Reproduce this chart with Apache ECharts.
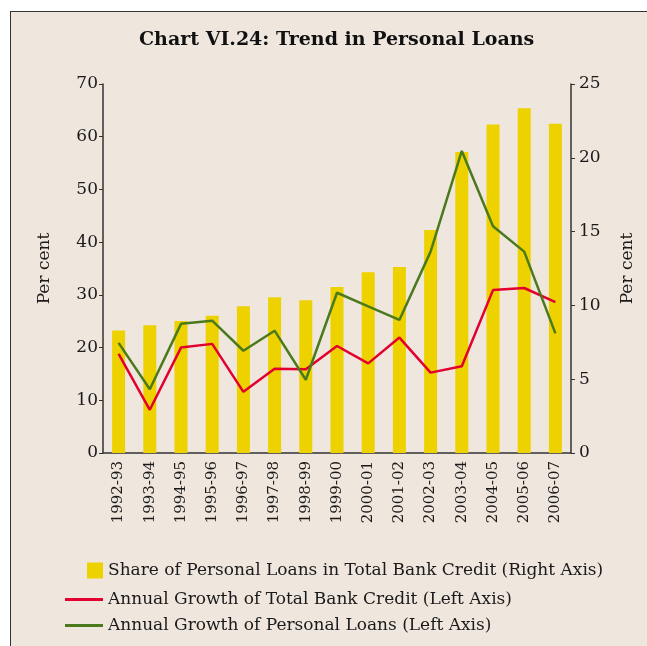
<!DOCTYPE html>
<html>
<head>
<meta charset="utf-8">
<script src="https://cdn.jsdelivr.net/npm/echarts@6/dist/echarts.min.js"></script>
<style>
  html, body { margin: 0; padding: 0; background: #ffffff; }
  #bg { position: absolute; left: 10px; top: 11px; width: 637px; height: 635px;
        background: #efe6dd; border-left: 1.5px solid #333; border-top: 1.5px solid #333; box-sizing: border-box; }
  #main { position: absolute; left: 0; top: 0; width: 647px; height: 646px; }
</style>
</head>
<body>
<div id="bg"></div>
<div id="main"></div>
<script>
var years = ['1992-93', '1993-94', '1994-95', '1995-96', '1996-97', '1997-98', '1998-99', '1999-00',
             '2000-01', '2001-02', '2002-03', '2003-04', '2004-05', '2005-06', '2006-07'];

// right axis, per cent
var shareLoans = [8.3, 8.65, 8.95, 9.3, 9.95, 10.55, 10.35, 11.25, 12.25, 12.6, 15.1, 20.4, 22.25, 23.35, 22.3];
// left axis, per cent
var growthCredit = [18.8, 8.2, 20.0, 20.7, 11.6, 16.0, 15.9, 20.3, 17.0, 21.9, 15.25, 16.45, 30.9, 31.3, 28.6];
var growthLoans = [20.9, 12.1, 24.5, 25.1, 19.4, 23.2, 13.9, 30.4, 27.8, 25.25, 38.2, 57.3, 43.0, 38.2, 22.7];

var names = [
    'Share of Personal Loans in Total Bank Credit (Right Axis)',
    'Annual Growth of Total Bank Credit (Left Axis)',
    'Annual Growth of Personal Loans (Left Axis)'
];

var font = 'DejaVu Serif';
var ink = '#1a1a1a';

var chartDom = document.getElementById('main');
var myChart = echarts.init(chartDom, null, { renderer: 'canvas' });
var option;

var legendText = { fontFamily: font, fontSize: 17, color: ink };

option = {
    backgroundColor: 'transparent',
    animation: false,
    title: {
        text: 'Chart VI.24: Trend in Personal Loans',
        left: 134,
        top: 26,
        textStyle: { fontFamily: font, fontSize: 19, fontWeight: 'bold', color: '#111' }
    },
    legend: [
        {
            data: [names[0]], left: 82, top: 557, itemWidth: 16, itemHeight: 16,
            icon: 'rect', textStyle: legendText
        },
        {
            data: [names[1]], left: 60, top: 586, itemWidth: 38, itemHeight: 3,
            icon: 'rect', textStyle: legendText
        },
        {
            data: [names[2]], left: 60, top: 612, itemWidth: 38, itemHeight: 3,
            icon: 'rect', textStyle: legendText
        }
    ],
    grid: { left: 103, right: 76, top: 84, bottom: 193 },
    xAxis: {
        type: 'category',
        data: years,
        boundaryGap: true,
        axisLine: { lineStyle: { color: '#333', width: 1.5 } },
        axisTick: { interval: 0, length: 5, lineStyle: { color: '#333' } },
        axisLabel: { interval: 0, rotate: 90, margin: 8, fontFamily: font, fontSize: 15, color: ink },
        splitLine: { show: false }
    },
    yAxis: [
        {
            type: 'value', min: 0, max: 70, interval: 10,
            name: 'Per cent', nameLocation: 'middle', nameRotate: 90, nameGap: 50,
            nameTextStyle: { fontFamily: font, fontSize: 17, color: ink },
            axisLine: { show: true, lineStyle: { color: '#333', width: 1.5 } },
            axisTick: { show: true, length: 4, lineStyle: { color: '#333' } },
            axisLabel: { margin: 5, fontFamily: font, fontSize: 17, color: ink },
            splitLine: { show: false }
        },
        {
            type: 'value', min: 0, max: 25, interval: 5, position: 'right',
            name: 'Per cent', nameLocation: 'middle', nameRotate: 90, nameGap: 48,
            nameTextStyle: { fontFamily: font, fontSize: 17, color: ink },
            axisLine: { show: true, lineStyle: { color: '#333', width: 1.5 } },
            axisTick: { show: true, length: 4, lineStyle: { color: '#333' } },
            axisLabel: { margin: 8, fontFamily: font, fontSize: 17, color: ink },
            splitLine: { show: false }
        }
    ],
    series: [
        {
            name: names[0], type: 'bar', yAxisIndex: 1, barWidth: 13,
            itemStyle: { color: '#edd200' },
            data: shareLoans
        },
        {
            name: names[1], type: 'line', yAxisIndex: 0, symbol: 'none',
            lineStyle: { color: '#e2002e', width: 2.5 }, itemStyle: { color: '#e2002e' },
            data: growthCredit
        },
        {
            name: names[2], type: 'line', yAxisIndex: 0, symbol: 'none',
            lineStyle: { color: '#4a7a1c', width: 2.5 }, itemStyle: { color: '#4a7a1c' },
            data: growthLoans
        }
    ]
};

option && myChart.setOption(option);
</script>
</body>
</html>
